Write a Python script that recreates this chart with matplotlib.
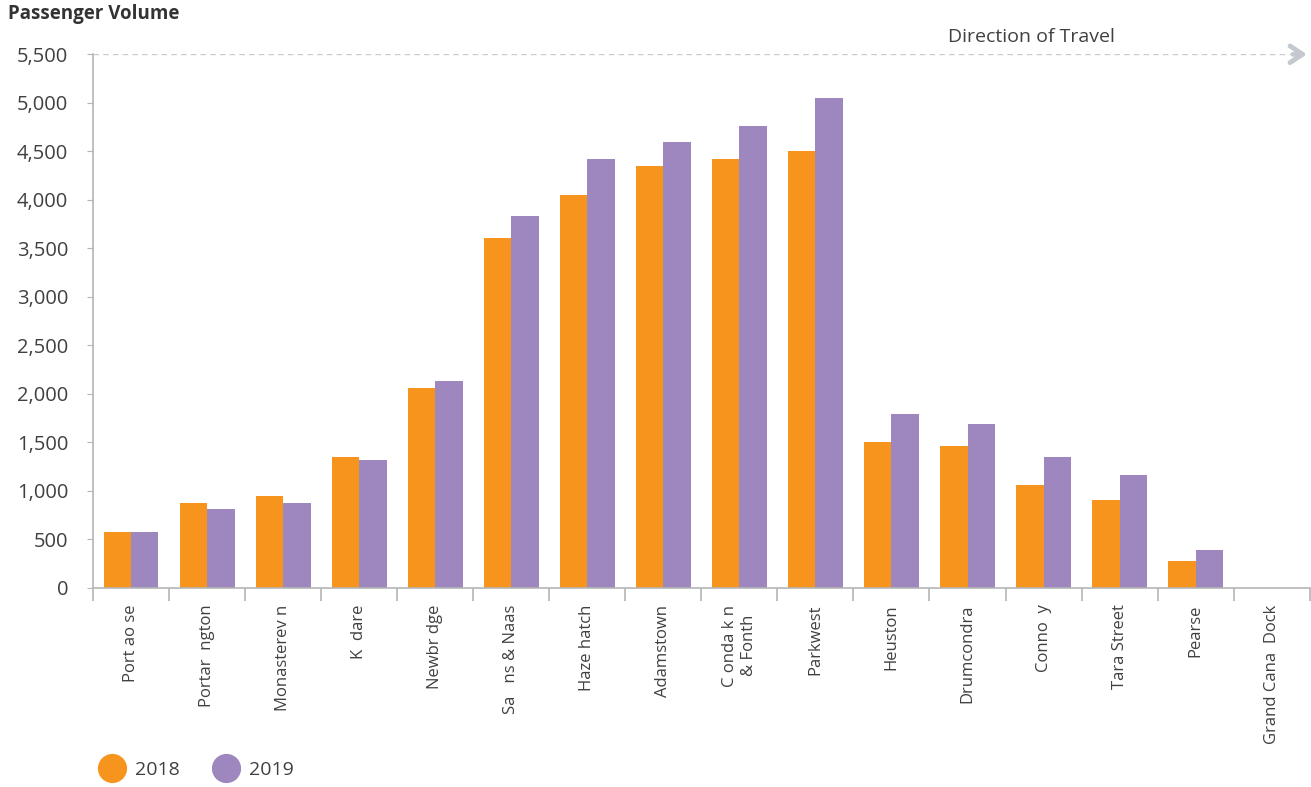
import numpy as np
import matplotlib.pyplot as plt
from matplotlib.lines import Line2D

# station labels as they appear on the chart
stations = ['Port ao se', 'Portar  ngton', 'Monasterev n', 'K  dare', 'Newbr dge',
            'Sa   ns & Naas', 'Haze hatch', 'Adamstown', 'C onda k n\n& Fonth',
            'Parkwest', 'Heuston', 'Drumcondra', 'Conno  y', 'Tara Street',
            'Pearse', 'Grand Cana  Dock']
vol_2018 = [580, 880, 950, 1350, 2060, 3610, 4050, 4350, 4420, 4500,
            1500, 1460, 1060, 910, 280, 0]
vol_2019 = [580, 810, 880, 1320, 2130, 3830, 4420, 4600, 4760, 5050,
            1790, 1690, 1350, 1160, 390, 0]
yticks = np.arange(0, 5501, 500)

orange = '#F7941D'
purple = '#9E86BE'
grey = '#b5b5b5'
txt = '#404040'

plt.rcParams['font.family'] = ['Open Sans', 'DejaVu Sans']

fig = plt.figure(figsize=(13.11, 7.87), dpi=100)
ax = fig.add_axes([0.071, 0.253, 0.928, 0.678])

x = np.arange(len(stations))
w = 0.36
ax.bar(x - w / 2, vol_2018, w, color=orange, label='2018')
ax.bar(x + w / 2, vol_2019, w, color=purple, label='2019')

ax.set_xlim(-0.5, len(stations) - 0.5)
ax.set_ylim(0, 5500)
ax.set_yticks(yticks)
ax.set_yticklabels([f'{v:,}' for v in yticks], fontsize=14.5, color=txt)
ax.tick_params(axis='y', length=4, color=grey, pad=14)

# category labels centred, tick marks on boundaries
ax.set_xticks(x)
ax.set_xticklabels(stations, rotation=90, fontsize=12, color=txt,
                   va='top', ha='center', multialignment='center')
ax.tick_params(axis='x', length=0, pad=12)
ax.set_xticks(np.arange(-0.5, len(stations)), minor=True)
ax.tick_params(axis='x', which='minor', length=9, color=grey, width=1.2)

for s in ['top', 'right']:
    ax.spines[s].set_visible(False)
for s in ['left', 'bottom']:
    ax.spines[s].set_color(grey)
    ax.spines[s].set_linewidth(1.2)

# direction of travel line
ax.axhline(5500, color='#c8ccd0', lw=1, ls=(0, (4, 3)), xmax=0.984)
ax.annotate('', xy=(1.0, 5500), xytext=(0.984, 5500),
            xycoords=('axes fraction', 'data'),
            arrowprops=dict(arrowstyle='->, head_length=0.9, head_width=0.6',
                            color='#c3c9cf', lw=3.5), annotation_clip=False)
ax.text(0.771, 5590, 'Direction of Travel', transform=ax.get_yaxis_transform(),
        ha='center', va='bottom', fontsize=14, color=txt)

fig.text(0.006, 0.982, 'Passenger Volume', fontsize=13.5, fontweight='bold',
         color='#333333', va='center', ha='left')

# circle markers as legend handles
handles = [Line2D([], [], ls='none', marker='o', ms=20, color=orange),
           Line2D([], [], ls='none', marker='o', ms=20, color=purple)]
fig.legend(handles, ['2018', '2019'], loc='lower left', bbox_to_anchor=(0.063, -0.012),
           ncol=2, frameon=False, fontsize=14, labelcolor=txt,
           handlelength=1.2, columnspacing=1.75, handletextpad=0.6)

fig.savefig('out.png', dpi=100)
